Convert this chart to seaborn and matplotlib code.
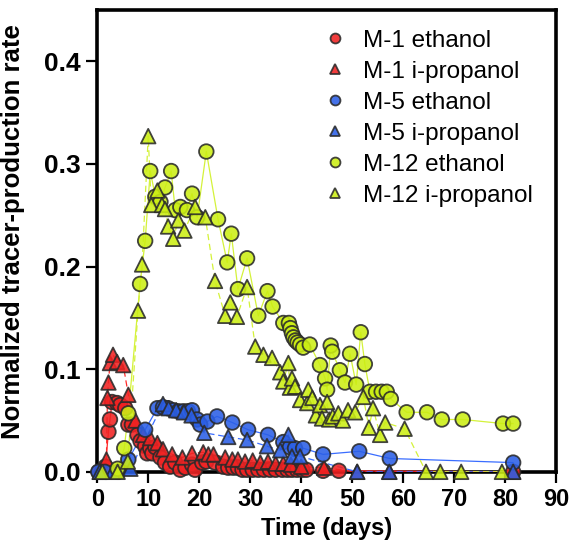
import numpy as np
import pandas as pd
import matplotlib
matplotlib.use("Agg")
import matplotlib.pyplot as plt
import seaborn as sns

# ---------------- data ----------------
m1_eth_day = [0.3, 1.0, 1.6, 2.2, 2.5, 2.9, 3.9, 4.5, 5.5, 6.1, 6.8, 7.9, 8.5, 9.4, 9.8, 10.4,
              10.8, 11.4, 12.4, 13.3, 14.3, 15.3, 16.3, 17.3, 18.6, 19.2, 20.6, 21.4, 23.1, 24.7,
              25.7, 26.7, 27.6, 28.5, 29.4, 30.5, 31.6, 32.7, 33.9, 35.0, 36.3, 37.3, 38.2, 39.2,
              40.2, 41.0, 44.3, 47.4, 81.6]
m1_eth_val = [0.0, 0.0, 0.005, 0.039, 0.051, 0.068, 0.067, 0.065, 0.062, 0.046, 0.046, 0.036,
              0.030, 0.025, 0.018, 0.023, 0.018, 0.024, 0.014, 0.009, 0.005, 0.009, 0.002, 0.004,
              0.007, 0.002, 0.009, 0.010, 0.009, 0.005, 0.004, 0.004, 0.004, 0.002, 0.002, 0.002,
              0.002, 0.002, 0.002, 0.002, 0.002, 0.002, 0.002, 0.002, 0.002, 0.002, 0.001, 0.001, 0.0]

m1_ipa_day = [0.5, 1.8, 2.0, 2.2, 2.5, 3.1, 3.9, 5.1, 6.1, 7.5, 9.0, 10.4, 11.8, 12.9, 14.7, 16.7,
              18.6, 20.8, 21.8, 22.8, 25.1, 26.5, 27.6, 29.0, 30.5, 32.0, 33.5, 35.0, 36.5, 38.0,
              40.0, 44.5, 51.0, 57.3, 81.6]
m1_ipa_val = [0.0, 0.012, 0.072, 0.087, 0.106, 0.114, 0.107, 0.104, 0.075, 0.050, 0.036, 0.033,
              0.028, 0.022, 0.017, 0.014, 0.018, 0.019, 0.017, 0.017, 0.014, 0.012, 0.012, 0.010,
              0.011, 0.009, 0.010, 0.008, 0.008, 0.007, 0.005, 0.004, 0.0, 0.0, 0.0]

m5_eth_day = [0.2, 1.5, 4.1, 6.1, 9.4, 11.8, 12.9, 13.9, 14.9, 15.9, 16.9, 17.8, 18.6, 19.6, 20.2,
              21.6, 23.5, 26.5, 29.6, 33.5, 36.5, 37.8, 38.8, 40.4, 44.3, 51.4, 57.4, 81.6]
m5_eth_val = [0.0, 0.0, 0.0, 0.012, 0.041, 0.062, 0.063, 0.062, 0.060, 0.059, 0.059, 0.059,
              0.060, 0.051, 0.046, 0.049, 0.054, 0.048, 0.041, 0.036, 0.029, 0.024, 0.023, 0.023,
              0.017, 0.020, 0.013, 0.009]

m5_ipa_day = [0.5, 3.0, 6.5, 12.9, 14.0, 15.5, 17.0, 18.5, 21.0, 25.7, 29.4, 33.3, 35.9, 37.5,
              38.2, 39.8, 51.0, 57.3, 81.6]
m5_ipa_val = [0.0, 0.0, 0.003, 0.066, 0.062, 0.060, 0.058, 0.055, 0.038, 0.034, 0.031, 0.025,
              0.021, 0.036, 0.015, 0.015, 0.0, 0.0, 0.0]

m12_eth_day = [4.0, 5.3, 6.1, 8.4, 9.4, 10.4, 11.4, 12.4, 13.3, 14.5, 15.3, 16.3, 17.6, 18.6, 19.6,
               21.4, 23.7, 25.5, 26.3, 27.6, 29.4, 31.6, 33.4, 34.4, 36.5, 37.6, 37.9, 38.2, 38.5,
               38.9, 39.3, 39.8, 40.4, 41.7, 43.7, 44.7, 45.1, 45.8, 46.1, 47.6, 48.6, 49.6, 50.8,
               51.7, 52.5, 53.5, 54.7, 55.8, 56.8, 57.6, 60.7, 64.7, 67.6, 71.7, 79.6, 81.6]
m12_eth_val = [0.003, 0.023, 0.057, 0.183, 0.225, 0.293, 0.268, 0.263, 0.277, 0.293, 0.255, 0.258,
               0.255, 0.271, 0.248, 0.312, 0.246, 0.204, 0.232, 0.178, 0.208, 0.152, 0.176, 0.161,
               0.145, 0.145, 0.140, 0.135, 0.131, 0.128, 0.126, 0.124, 0.121, 0.124, 0.104, 0.091,
               0.080, 0.123, 0.117, 0.099, 0.087, 0.115, 0.085, 0.136, 0.105, 0.078, 0.078, 0.078,
               0.078, 0.071, 0.058, 0.058, 0.051, 0.051, 0.047, 0.047]

m12_ipa_day = [1.0, 4.0, 6.0, 8.0, 8.8, 10.0, 10.6, 11.8, 12.7, 13.3, 13.9, 14.9, 15.9, 17.1, 19.2,
               21.2, 23.1, 25.1, 26.1, 27.4, 29.4, 31.0, 32.6, 34.3, 35.9, 36.5, 37.5, 37.8, 38.2,
               38.8, 39.8, 41.2, 41.4, 42.2, 42.9, 43.7, 44.1, 45.1, 45.5, 46.2, 47.3, 48.2, 49.2,
               50.6, 52.2, 53.3, 54.1, 55.5, 56.5, 60.3, 64.5, 67.3, 71.4, 79.4]
m12_ipa_val = [0.0, 0.0, 0.010, 0.157, 0.202, 0.327, 0.260, 0.274, 0.260, 0.256, 0.239, 0.227,
               0.245, 0.235, 0.258, 0.248, 0.186, 0.152, 0.165, 0.151, 0.180, 0.122, 0.114, 0.111,
               0.097, 0.088, 0.106, 0.082, 0.091, 0.083, 0.070, 0.067, 0.080, 0.072, 0.055, 0.065,
               0.052, 0.068, 0.051, 0.054, 0.057, 0.050, 0.060, 0.058, 0.073, 0.043, 0.062, 0.036,
               0.048, 0.042, 0.0, 0.0, 0.0, 0.0]

series_labels = ["M-1 ethanol", "M-1 i-propanol", "M-5 ethanol", "M-5 i-propanol",
                 "M-12 ethanol", "M-12 i-propanol"]
x_ticks = [0, 10, 20, 30, 40, 50, 60, 70, 80, 90]
y_ticks = [0.0, 0.1, 0.2, 0.3, 0.4]

# ---------------- build table ----------------
series = [
    (series_labels[0], m1_eth_day, m1_eth_val),
    (series_labels[1], m1_ipa_day, m1_ipa_val),
    (series_labels[2], m5_eth_day, m5_eth_val),
    (series_labels[3], m5_ipa_day, m5_ipa_val),
    (series_labels[4], m12_eth_day, m12_eth_val),
    (series_labels[5], m12_ipa_day, m12_ipa_val),
]
frames = []
for lab, d, v in series:
    frames.append(pd.DataFrame({"day": d, "rate": v, "series": lab}))
df = pd.concat(frames, ignore_index=True)

red, blue, lime = "#f02222", "#2b5fe6", "#ccee14"
palette = {series_labels[0]: red, series_labels[1]: red,
           series_labels[2]: blue, series_labels[3]: blue,
           series_labels[4]: lime, series_labels[5]: lime}
line_palette = {series_labels[0]: "#ff2a2a", series_labels[1]: "#ff2a2a",
                series_labels[2]: "#3a6dff", series_labels[3]: "#3a6dff",
                series_labels[4]: "#d4f23a", series_labels[5]: "#d4f23a"}
markers = {series_labels[0]: "o", series_labels[1]: "^",
           series_labels[2]: "o", series_labels[3]: "^",
           series_labels[4]: "o", series_labels[5]: "^"}
dashes = {series_labels[0]: "", series_labels[1]: (5, 3),
          series_labels[2]: "", series_labels[3]: (5, 3),
          series_labels[4]: "", series_labels[5]: (5, 3)}

# ---------------- plot ----------------
sns.set_theme(style="ticks")
plt.rcParams["font.family"] = ["Liberation Sans", "DejaVu Sans"]
plt.rcParams["text.color"] = "black"
plt.rcParams["axes.labelcolor"] = "black"
plt.rcParams["xtick.color"] = "black"
plt.rcParams["ytick.color"] = "black"

fig = plt.figure(figsize=(5.72, 5.48), dpi=100)
ax = fig.add_axes([0.170, 0.139, 0.802, 0.843])

sns.lineplot(data=df, x="day", y="rate", hue="series", style="series",
             palette=line_palette, dashes=dashes, estimator=None, sort=False,
             linewidth=0.9, legend=False, ax=ax, zorder=2)
sns.scatterplot(data=df, x="day", y="rate", hue="series", style="series",
                palette=palette, markers=markers, hue_order=series_labels,
                s=110, edgecolor="#2a2a2a", linewidth=1.3, alpha=0.88,
                ax=ax, zorder=3, clip_on=False)

ax.set_xlim(0, 90)
ax.set_ylim(0, 0.45)
ax.set_xticks(x_ticks)
ax.set_yticks(y_ticks)
ax.set_yticklabels([f"{t:.1f}" for t in y_ticks])
ax.set_xlabel("Time (days)", fontsize=17, fontweight="bold", labelpad=4)
ax.set_ylabel("Normalized tracer-production rate", fontsize=18.5, fontweight="bold", labelpad=4)
ax.yaxis.set_label_coords(-0.157, 0.52)
ax.tick_params(axis="both", direction="out", length=8, width=1.6, pad=4,
               color="black", labelcolor="black")
ax.tick_params(axis="x", labelsize=17)
ax.tick_params(axis="y", labelsize=19)
for lab in ax.get_xticklabels() + ax.get_yticklabels():
    lab.set_fontweight("bold")
for sp in ax.spines.values():
    sp.set_linewidth(2.6)
    sp.set_color("black")
    sp.set_zorder(1)

handles, labels = ax.get_legend_handles_labels()
leg = ax.legend(handles, labels, loc="upper left", bbox_to_anchor=(0.455, 0.978),
                frameon=False, fontsize=17.5, markerscale=0.68, handletextpad=0.35,
                labelspacing=0.37, borderaxespad=0.0, handlelength=1.6)
for t in leg.get_texts():
    t.set_color("black")

fig.savefig("out.png", dpi=100)
